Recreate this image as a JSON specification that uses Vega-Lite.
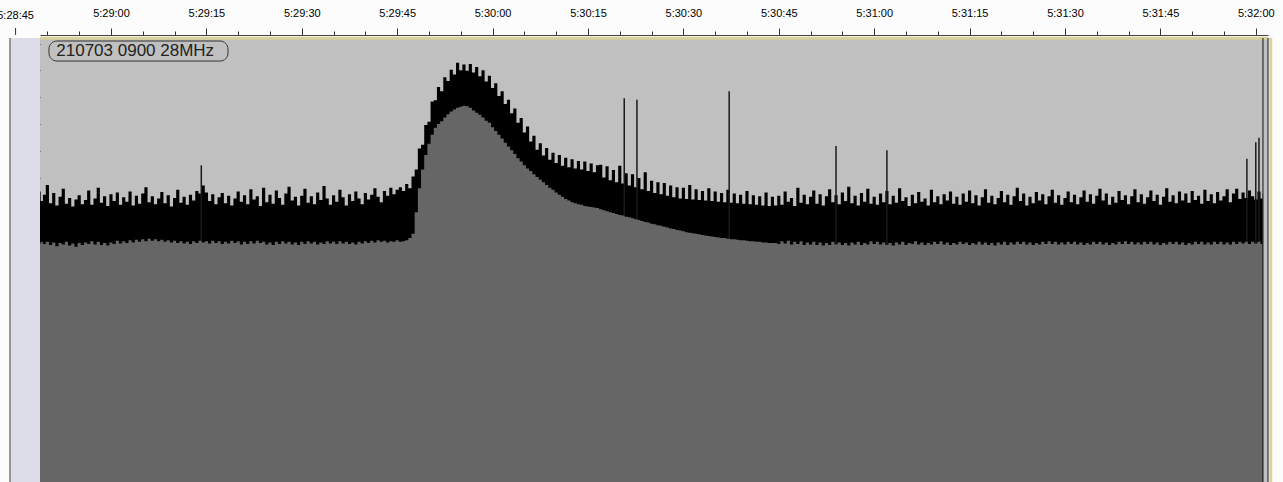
{
"$schema": "https://vega.github.io/schema/vega-lite/v6.json",
"width": 1228, "height": 444,
"autosize": "none",
"padding": {"left": 40, "top": 38, "right": 15, "bottom": 0},
"background": "#fcfcfc",
"view": {"fill": "#c0c0c0", "stroke": null},
"config": {"axis": {"labelOverlap": false, "labelFlush": false, "labelBound": false, "zindex": 1}},
"datasets": {
"wave": [
{"t":48.8,"p":-27.6,"r":-37.3},{"t":49.1,"p":-29.4,"r":-37.0},
{"t":49.5,"p":-28.2,"r":-37.4},{"t":50.0,"p":-26.4,"r":-37.0},{"t":50.5,"p":-29.8,"r":-37.6},{"t":51.0,"p":-27.9,"r":-37.1},{"t":51.5,"p":-30.2,"r":-37.8},{"t":52.0,"p":-28.6,"r":-37.2},{"t":52.5,"p":-27.1,"r":-37.5},{"t":53.0,"p":-29.9,"r":-37.0},{"t":53.5,"p":-28.8,"r":-37.7},{"t":54.0,"p":-30.4,"r":-37.3},{"t":54.5,"p":-29.1,"r":-37.9},{"t":55.0,"p":-28.3,"r":-37.2},{"t":55.5,"p":-30.0,"r":-37.6},{"t":56.0,"p":-29.2,"r":-37.1},{"t":56.5,"p":-27.4,"r":-37.4},{"t":57.0,"p":-30.1,"r":-36.9},{"t":57.5,"p":-28.9,"r":-37.5},{"t":58.0,"p":-26.9,"r":-37.0},{"t":58.5,"p":-29.7,"r":-37.6},{"t":59.0,"p":-28.5,"r":-37.2},{"t":59.5,"p":-30.3,"r":-37.7},{"t":60.0,"p":-28.1,"r":-37.1},{"t":60.5,"p":-29.4,"r":-37.4},{"t":61.0,"p":-27.8,"r":-36.8},{"t":61.5,"p":-30.1,"r":-37.3},{"t":62.0,"p":-28.7,"r":-36.9},{"t":62.5,"p":-29.5,"r":-37.2},{"t":63.0,"p":-27.6,"r":-36.7},{"t":63.5,"p":-30.2,"r":-37.1},{"t":64.0,"p":-28.4,"r":-36.6},{"t":64.5,"p":-29.9,"r":-37.0},{"t":65.0,"p":-28.0,"r":-36.5},{"t":65.5,"p":-26.8,"r":-36.9},{"t":66.0,"p":-29.6,"r":-36.4},{"t":66.5,"p":-28.5,"r":-36.8},{"t":67.0,"p":-30.0,"r":-36.5},{"t":67.5,"p":-28.9,"r":-36.9},{"t":68.0,"p":-27.7,"r":-36.6},{"t":68.5,"p":-29.8,"r":-37.0},{"t":69.0,"p":-28.3,"r":-36.7},{"t":69.5,"p":-30.4,"r":-37.1},{"t":70.0,"p":-28.8,"r":-36.8},{"t":70.5,"p":-27.3,"r":-37.2},{"t":71.0,"p":-29.7,"r":-36.9},{"t":71.5,"p":-28.6,"r":-37.3},{"t":72.0,"p":-30.1,"r":-37.0},{"t":72.5,"p":-28.2,"r":-37.4},{"t":73.0,"p":-29.3,"r":-36.9},{"t":73.5,"p":-27.5,"r":-37.2},{"t":74.0,"p":-28.0,"r":-36.8},{"t":74.5,"p":-26.5,"r":-37.1},{"t":75.0,"p":-27.8,"r":-36.9},{"t":75.5,"p":-29.4,"r":-37.3},{"t":76.0,"p":-28.1,"r":-36.8},{"t":76.5,"p":-30.0,"r":-37.2},{"t":77.0,"p":-28.7,"r":-36.9},{"t":77.5,"p":-27.9,"r":-37.4},{"t":78.0,"p":-29.8,"r":-37.0},{"t":78.5,"p":-28.4,"r":-37.3},{"t":79.0,"p":-30.2,"r":-36.8},{"t":79.5,"p":-28.9,"r":-37.2},{"t":80.0,"p":-27.6,"r":-36.9},{"t":80.5,"p":-29.5,"r":-37.5},{"t":81.0,"p":-28.3,"r":-37.0},{"t":81.5,"p":-30.0,"r":-37.4},{"t":82.0,"p":-27.2,"r":-36.9},{"t":82.5,"p":-29.1,"r":-37.3},{"t":83.0,"p":-28.5,"r":-36.8},{"t":83.5,"p":-30.3,"r":-37.2},{"t":84.0,"p":-26.9,"r":-37.0},{"t":84.5,"p":-29.6,"r":-37.5},{"t":85.0,"p":-28.2,"r":-37.1},{"t":85.5,"p":-29.9,"r":-37.6},{"t":86.0,"p":-27.4,"r":-37.0},{"t":86.5,"p":-28.8,"r":-37.4},{"t":87.0,"p":-30.1,"r":-36.9},{"t":87.5,"p":-28.0,"r":-37.3},{"t":88.0,"p":-26.7,"r":-37.0},{"t":88.5,"p":-29.3,"r":-37.5},{"t":89.0,"p":-28.6,"r":-37.1},{"t":89.5,"p":-30.2,"r":-37.6},{"t":90.0,"p":-28.4,"r":-37.0},{"t":90.5,"p":-27.1,"r":-37.4},{"t":91.0,"p":-29.7,"r":-36.9},{"t":91.5,"p":-28.5,"r":-37.3},{"t":92.0,"p":-30.0,"r":-37.0},{"t":92.5,"p":-27.8,"r":-37.5},{"t":93.0,"p":-29.2,"r":-37.1},{"t":93.5,"p":-26.6,"r":-37.4},{"t":94.0,"p":-28.9,"r":-36.9},{"t":94.5,"p":-30.1,"r":-37.3},{"t":95.0,"p":-28.3,"r":-37.0},{"t":95.5,"p":-29.5,"r":-37.4},{"t":96.0,"p":-27.3,"r":-36.9},{"t":96.5,"p":-28.7,"r":-37.3},{"t":97.0,"p":-30.2,"r":-37.0},{"t":97.5,"p":-28.1,"r":-37.4},{"t":98.0,"p":-29.4,"r":-37.1},{"t":98.5,"p":-27.6,"r":-37.5},{"t":99.0,"p":-28.9,"r":-37.0},{"t":99.5,"p":-30.0,"r":-37.3},{"t":100.0,"p":-27.9,"r":-36.9},{"t":100.5,"p":-29.1,"r":-37.2},{"t":101.0,"p":-28.2,"r":-36.8},{"t":101.5,"p":-27.0,"r":-37.1},{"t":102.0,"p":-28.6,"r":-36.7},{"t":102.5,"p":-29.6,"r":-37.0},{"t":103.0,"p":-27.5,"r":-36.8},{"t":103.5,"p":-28.4,"r":-37.1},{"t":104.0,"p":-26.9,"r":-36.9},{"t":104.5,"p":-28.1,"r":-37.0},{"t":105.0,"p":-27.3,"r":-36.7},{"t":105.5,"p":-26.8,"r":-37.0},{"t":106.0,"p":-27.5,"r":-36.9},
{"t":106.5,"p":-26.2,"r":-36.7},{"t":107.0,"p":-27.0,"r":-36.3},{"t":107.5,"p":-24.8,"r":-35.5},{"t":108.0,"p":-23.5,"r":-31.5},{"t":108.5,"p":-19.6,"r":-27.0},{"t":109.0,"p":-18.9,"r":-23.5},{"t":109.5,"p":-15.2,"r":-20.8},{"t":110.0,"p":-14.6,"r":-18.7},{"t":110.5,"p":-10.8,"r":-17.0},{"t":111.0,"p":-10.6,"r":-15.7},{"t":111.5,"p":-8.1,"r":-15.0},{"t":112.0,"p":-8.9,"r":-14.5},{"t":112.5,"p":-6.3,"r":-13.8},{"t":113.0,"p":-7.0,"r":-13.2},{"t":113.5,"p":-4.9,"r":-12.7},{"t":114.0,"p":-5.8,"r":-12.3},{"t":114.5,"p":-3.6,"r":-12.0},{"t":115.0,"p":-5.0,"r":-11.8},{"t":115.5,"p":-3.9,"r":-11.6},{"t":116.0,"p":-5.1,"r":-11.7},{"t":116.5,"p":-3.8,"r":-12.0},{"t":117.0,"p":-5.4,"r":-12.5},{"t":117.5,"p":-4.4,"r":-12.9},{"t":118.0,"p":-6.1,"r":-13.3},{"t":118.5,"p":-5.0,"r":-13.8},{"t":119.0,"p":-7.1,"r":-14.4},{"t":119.5,"p":-6.0,"r":-14.8},{"t":120.0,"p":-8.3,"r":-15.6},{"t":120.5,"p":-7.4,"r":-16.3},{"t":121.0,"p":-9.8,"r":-17.0},{"t":121.5,"p":-8.9,"r":-17.7},{"t":122.0,"p":-11.3,"r":-18.5},{"t":122.5,"p":-10.5,"r":-19.2},{"t":123.0,"p":-13.0,"r":-19.9},{"t":123.5,"p":-12.1,"r":-20.6},{"t":124.0,"p":-14.8,"r":-21.4},{"t":124.5,"p":-13.9,"r":-22.0},{"t":125.0,"p":-16.6,"r":-22.7},{"t":125.5,"p":-15.5,"r":-23.3},{"t":126.0,"p":-18.3,"r":-23.8},{"t":126.5,"p":-17.2,"r":-24.4},{"t":127.0,"p":-19.8,"r":-24.9},{"t":127.5,"p":-18.6,"r":-25.4},{"t":128.0,"p":-20.9,"r":-25.9},{"t":128.5,"p":-19.5,"r":-26.4},{"t":129.0,"p":-21.7,"r":-26.9},{"t":129.5,"p":-20.4,"r":-27.3},{"t":130.0,"p":-22.3,"r":-27.8},{"t":130.5,"p":-20.8,"r":-28.2},{"t":131.0,"p":-22.8,"r":-28.6},{"t":131.5,"p":-21.3,"r":-29.0},{"t":132.0,"p":-23.1,"r":-29.3},{"t":132.5,"p":-21.6,"r":-29.6},{"t":133.0,"p":-23.3,"r":-29.8},{"t":133.5,"p":-21.9,"r":-30.0},{"t":134.0,"p":-23.5,"r":-30.1},{"t":134.5,"p":-22.0,"r":-30.3},{"t":135.0,"p":-23.8,"r":-30.4},{"t":135.5,"p":-22.4,"r":-30.5},{"t":136.0,"p":-24.0,"r":-30.6},{"t":136.5,"p":-22.7,"r":-30.7},
{"t":137.0,"p":-22.6,"r":-30.9},{"t":137.5,"p":-25.0,"r":-31.1},{"t":138.0,"p":-22.9,"r":-31.3},{"t":138.5,"p":-25.5,"r":-31.5},{"t":139.0,"p":-23.6,"r":-31.6},{"t":139.5,"p":-25.9,"r":-31.8},{"t":140.0,"p":-22.8,"r":-32.0},{"t":140.5,"p":-26.1,"r":-32.1},{"t":141.0,"p":-24.2,"r":-32.3},{"t":141.5,"p":-26.5,"r":-32.4},{"t":142.0,"p":-24.4,"r":-32.6},{"t":142.5,"p":-26.8,"r":-32.8},{"t":143.0,"p":-25.1,"r":-32.9},{"t":143.5,"p":-27.2,"r":-33.1},{"t":144.0,"p":-24.0,"r":-33.3},{"t":144.5,"p":-27.5,"r":-33.4},{"t":145.0,"p":-25.6,"r":-33.6},{"t":145.5,"p":-27.9,"r":-33.7},{"t":146.0,"p":-25.9,"r":-33.9},{"t":146.5,"p":-28.1,"r":-34.0},{"t":147.0,"p":-26.0,"r":-34.2},{"t":147.5,"p":-28.4,"r":-34.3},{"t":148.0,"p":-26.5,"r":-34.5},{"t":148.5,"p":-28.7,"r":-34.6},{"t":149.0,"p":-26.8,"r":-34.8},{"t":149.5,"p":-28.9,"r":-34.9},{"t":150.0,"p":-26.9,"r":-35.0},{"t":150.5,"p":-29.0,"r":-35.2},{"t":151.0,"p":-26.4,"r":-35.3},{"t":151.5,"p":-29.1,"r":-35.4},{"t":152.0,"p":-27.2,"r":-35.5},{"t":152.5,"p":-29.2,"r":-35.6},{"t":153.0,"p":-27.5,"r":-35.7},{"t":153.5,"p":-29.3,"r":-35.8},{"t":154.0,"p":-27.0,"r":-35.9},{"t":154.5,"p":-29.4,"r":-36.0},{"t":155.0,"p":-27.6,"r":-36.1},{"t":155.5,"p":-29.5,"r":-36.2},{"t":156.0,"p":-27.9,"r":-36.3},{"t":156.5,"p":-29.6,"r":-36.3},{"t":157.0,"p":-27.3,"r":-36.4},{"t":157.5,"p":-29.7,"r":-36.5},{"t":158.0,"p":-28.0,"r":-36.5},{"t":158.5,"p":-29.8,"r":-36.6},{"t":159.0,"p":-28.2,"r":-36.7},{"t":159.5,"p":-29.9,"r":-36.7},{"t":160.0,"p":-27.5,"r":-36.8},{"t":160.5,"p":-30.0,"r":-36.9},{"t":161.0,"p":-28.3,"r":-36.9},{"t":161.5,"p":-30.1,"r":-37.0},{"t":162.0,"p":-28.5,"r":-37.0},{"t":162.5,"p":-30.2,"r":-37.1},{"t":163.0,"p":-27.8,"r":-37.1},{"t":163.5,"p":-30.3,"r":-37.2},{"t":164.0,"p":-28.6,"r":-37.2},{"t":164.5,"p":-30.2,"r":-37.2},
{"t":165.0,"p":-28.4,"r":-37.4},{"t":165.5,"p":-30.1,"r":-36.9},{"t":166.0,"p":-27.6,"r":-37.3},{"t":166.5,"p":-29.5,"r":-36.8},{"t":167.0,"p":-28.8,"r":-37.5},{"t":167.5,"p":-30.3,"r":-37.0},{"t":168.0,"p":-26.9,"r":-37.4},{"t":168.5,"p":-29.7,"r":-36.9},{"t":169.0,"p":-28.2,"r":-37.6},{"t":169.5,"p":-30.0,"r":-37.1},{"t":170.0,"p":-28.6,"r":-37.5},{"t":170.5,"p":-27.4,"r":-37.0},{"t":171.0,"p":-29.9,"r":-37.6},{"t":171.5,"p":-28.1,"r":-37.1},{"t":172.0,"p":-30.2,"r":-37.7},{"t":172.5,"p":-28.5,"r":-37.2},{"t":173.0,"p":-27.2,"r":-37.6},{"t":173.5,"p":-29.6,"r":-37.0},{"t":174.0,"p":-28.3,"r":-37.5},{"t":174.5,"p":-30.0,"r":-37.1},{"t":175.0,"p":-27.8,"r":-37.6},{"t":175.5,"p":-29.4,"r":-37.2},{"t":176.0,"p":-26.7,"r":-37.7},{"t":176.5,"p":-29.8,"r":-37.1},{"t":177.0,"p":-28.4,"r":-37.5},{"t":177.5,"p":-30.2,"r":-37.0},{"t":178.0,"p":-27.9,"r":-37.6},{"t":178.5,"p":-29.5,"r":-37.2},{"t":179.0,"p":-27.1,"r":-37.5},{"t":179.5,"p":-29.9,"r":-36.9},{"t":180.0,"p":-28.6,"r":-37.4},{"t":180.5,"p":-30.1,"r":-37.0},{"t":181.0,"p":-28.0,"r":-37.5},{"t":181.5,"p":-29.6,"r":-37.1},{"t":182.0,"p":-27.5,"r":-37.6},{"t":182.5,"p":-30.0,"r":-37.2},{"t":183.0,"p":-28.4,"r":-37.7},{"t":183.5,"p":-29.7,"r":-37.1},{"t":184.0,"p":-27.0,"r":-37.5},{"t":184.5,"p":-29.4,"r":-37.0},{"t":185.0,"p":-28.7,"r":-37.6},{"t":185.5,"p":-30.3,"r":-37.2},{"t":186.0,"p":-28.2,"r":-37.4},{"t":186.5,"p":-29.8,"r":-36.9},{"t":187.0,"p":-27.7,"r":-37.5},{"t":187.5,"p":-29.5,"r":-37.1},{"t":188.0,"p":-28.9,"r":-37.6},{"t":188.5,"p":-30.2,"r":-37.2},{"t":189.0,"p":-27.3,"r":-37.5},{"t":189.5,"p":-29.6,"r":-37.0},{"t":190.0,"p":-28.5,"r":-37.4},{"t":190.5,"p":-30.0,"r":-36.9},{"t":191.0,"p":-28.1,"r":-37.5},{"t":191.5,"p":-29.3,"r":-37.1},{"t":192.0,"p":-27.6,"r":-37.6},{"t":192.5,"p":-29.9,"r":-37.2},{"t":193.0,"p":-28.6,"r":-37.5},{"t":193.5,"p":-30.1,"r":-37.0},{"t":194.0,"p":-28.0,"r":-37.4},{"t":194.5,"p":-29.5,"r":-37.1},{"t":195.0,"p":-27.4,"r":-37.6},{"t":195.5,"p":-29.8,"r":-37.2},{"t":196.0,"p":-28.3,"r":-37.5},{"t":196.5,"p":-30.2,"r":-37.0},{"t":197.0,"p":-28.7,"r":-37.5},{"t":197.5,"p":-27.2,"r":-37.1},{"t":198.0,"p":-29.7,"r":-37.6},{"t":198.5,"p":-28.4,"r":-37.2},{"t":199.0,"p":-30.0,"r":-37.7},{"t":199.5,"p":-28.8,"r":-37.1},{"t":200.0,"p":-27.5,"r":-37.5},{"t":200.5,"p":-29.6,"r":-37.0},{"t":201.0,"p":-28.2,"r":-37.6},{"t":201.5,"p":-30.1,"r":-37.1},{"t":202.0,"p":-28.5,"r":-37.5},{"t":202.5,"p":-26.9,"r":-37.0},{"t":203.0,"p":-29.4,"r":-37.4},{"t":203.5,"p":-28.0,"r":-37.0},{"t":204.0,"p":-30.2,"r":-37.5},{"t":204.5,"p":-28.6,"r":-37.1},{"t":205.0,"p":-29.8,"r":-37.6},{"t":205.5,"p":-27.7,"r":-37.2},{"t":206.0,"p":-29.3,"r":-37.5},{"t":206.5,"p":-28.1,"r":-37.0},{"t":207.0,"p":-30.0,"r":-37.4},{"t":207.5,"p":-28.5,"r":-36.9},{"t":208.0,"p":-27.3,"r":-37.4},{"t":208.5,"p":-29.7,"r":-37.0},{"t":209.0,"p":-28.3,"r":-37.5},{"t":209.5,"p":-30.1,"r":-37.1},{"t":210.0,"p":-28.8,"r":-37.5},{"t":210.5,"p":-27.6,"r":-37.0},{"t":211.0,"p":-29.6,"r":-37.4},{"t":211.5,"p":-28.2,"r":-37.0},{"t":212.0,"p":-30.0,"r":-37.5},{"t":212.5,"p":-28.7,"r":-37.1},{"t":213.0,"p":-27.4,"r":-37.6},{"t":213.5,"p":-29.5,"r":-37.2},{"t":214.0,"p":-28.1,"r":-37.5},{"t":214.5,"p":-29.9,"r":-37.0},{"t":215.0,"p":-28.4,"r":-37.4},{"t":215.5,"p":-27.1,"r":-37.0},{"t":216.0,"p":-29.3,"r":-37.5},{"t":216.5,"p":-28.0,"r":-37.1},{"t":217.0,"p":-30.1,"r":-37.6},{"t":217.5,"p":-28.6,"r":-37.2},{"t":218.0,"p":-29.7,"r":-37.5},{"t":218.5,"p":-27.5,"r":-37.0},{"t":219.0,"p":-29.2,"r":-37.4},{"t":219.5,"p":-28.3,"r":-36.9},{"t":220.0,"p":-30.0,"r":-37.4},{"t":220.5,"p":-28.5,"r":-37.0},{"t":221.0,"p":-27.2,"r":-37.5},{"t":221.5,"p":-29.6,"r":-37.1},{"t":222.0,"p":-28.1,"r":-37.5},{"t":222.5,"p":-29.9,"r":-37.0},{"t":223.0,"p":-28.7,"r":-37.4},{"t":223.5,"p":-27.4,"r":-37.0},{"t":224.0,"p":-29.4,"r":-37.5},{"t":224.5,"p":-28.2,"r":-37.1},{"t":225.0,"p":-30.1,"r":-37.6},{"t":225.5,"p":-28.6,"r":-37.2},{"t":226.0,"p":-27.0,"r":-37.5},{"t":226.5,"p":-29.5,"r":-37.0},{"t":227.0,"p":-28.3,"r":-37.4},{"t":227.5,"p":-29.8,"r":-37.0},{"t":228.0,"p":-27.6,"r":-37.5},{"t":228.5,"p":-29.3,"r":-37.1},{"t":229.0,"p":-28.0,"r":-37.6},{"t":229.5,"p":-29.7,"r":-37.2},{"t":230.0,"p":-27.5,"r":-37.5},{"t":230.5,"p":-29.2,"r":-37.0},{"t":231.0,"p":-28.4,"r":-37.4},{"t":231.5,"p":-29.9,"r":-37.0},{"t":232.0,"p":-27.3,"r":-37.5},{"t":232.5,"p":-29.4,"r":-37.1},{"t":233.0,"p":-28.1,"r":-37.5},{"t":233.5,"p":-29.8,"r":-37.0},{"t":234.0,"p":-27.7,"r":-37.4},{"t":234.5,"p":-29.3,"r":-37.0},{"t":235.0,"p":-28.5,"r":-37.5},{"t":235.5,"p":-27.2,"r":-37.1},{"t":236.0,"p":-29.6,"r":-37.5},{"t":236.5,"p":-28.0,"r":-37.0},{"t":237.0,"p":-27.1,"r":-37.4},{"t":237.5,"p":-29.0,"r":-37.0},{"t":238.0,"p":-27.8,"r":-37.3},{"t":238.5,"p":-28.8,"r":-37.0},{"t":239.0,"p":-27.4,"r":-37.4},{"t":239.5,"p":-28.5,"r":-37.0},{"t":240.0,"p":-29.1,"r":-37.3},{"t":240.5,"p":-27.6,"r":-37.0},{"t":241.0,"p":-28.9,"r":-37.4},{"t":241.1,"p":-28.0,"r":-37.1}
],
"spikes": [
{"t":74.2,"top":-22.7},{"t":140.7,"top":-10.2},{"t":142.7,"top":-10.5},{"t":157.2,"top":-8.9},{"t":174.0,"top":-19.1},{"t":182.0,"top":-19.9},{"t":238.6,"top":-21.5},{"t":240.0,"top":-18.4},{"t":240.5,"top":-17.6}
],
"tag": [{"label":"210703 0900 28MHz","first":"5:28:45"}]
},
"layer": [
{"data":{"name":"wave"},
"mark":{"type":"area","color":"#000000","interpolate":"step"},
"encoding":{
"x":{"field":"t","type":"quantitative","scale":{"domain":[48.84,241.92],"nice":false,"zero":false},
"axis":{"orient":"top","title":null,"offset":3,"values":[50,55,60,65,70,75,80,85,90,95,100,105,110,115,120,125,130,135,140,145,150,155,160,165,170,175,180,185,190,195,200,205,210,215,220,225,230,235,240],"labelExpr":"datum.value % 15 == 0 ? '5:' + (28 + floor(datum.value/60)) + ':' + (datum.value % 60 < 10 ? '0' : '') + (datum.value % 60) : ''","tickSize":{"condition":{"test":"datum.value % 15 == 0","value":7},"value":4},"labelPadding":10,"labelFont":"Liberation Sans","labelFontSize":11,"labelColor":"#000","tickColor":"#333","domainColor":"#444","grid":false}},
"y":{"field":"p","type":"quantitative","scale":{"domain":[-81.8,1.03],"nice":false,"zero":false},
"axis":{"title":null,"values":[0,-5,-10,-15,-20,-25,-30,-35,-40,-45,-50,-55,-60,-65,-70,-79],"labelExpr":"datum.value == 0 ? '0' : '-' + abs(datum.value)","domain":false,"grid":false,"labelFont":"Liberation Sans","labelFontSize":11,"labelColor":"#000","labelFontWeight":"bold","tickSize":5,"labelPadding":1,"tickColor":"#333"}},
"y2":{"datum":-81.8}}},
{"data":{"name":"spikes"},
"mark":{"type":"rule","color":"#1a1a1a","strokeWidth":1.5},
"encoding":{
"x":{"field":"t","type":"quantitative",
"axis":{"orient":"top","title":null,"offset":3,"values":[50,55,60,65,70,75,80,85,90,95,100,105,110,115,120,125,130,135,140,145,150,155,160,165,170,175,180,185,190,195,200,205,210,215,220,225,230,235,240],"labelExpr":"datum.value % 15 == 0 ? '5:' + (28 + floor(datum.value/60)) + ':' + (datum.value % 60 < 10 ? '0' : '') + (datum.value % 60) : ''","tickSize":{"condition":{"test":"datum.value % 15 == 0","value":7},"value":4},"labelPadding":10,"labelFont":"Liberation Sans","labelFontSize":11,"labelColor":"#000","tickColor":"#333","domainColor":"#444","grid":false}},
"y":{"field":"top","type":"quantitative",
"axis":{"title":null,"values":[0,-5,-10,-15,-20,-25,-30,-35,-40,-45,-50,-55,-60,-65,-70,-79],"labelExpr":"datum.value == 0 ? '0' : '-' + abs(datum.value)","domain":false,"grid":false,"labelFont":"Liberation Sans","labelFontSize":11,"labelColor":"#000","labelFontWeight":"bold","tickSize":5,"labelPadding":1,"tickColor":"#333"}},
"y2":{"datum":-81.8}}},
{"data":{"name":"wave"},
"mark":{"type":"area","color":"#666666","interpolate":"step"},
"encoding":{
"x":{"field":"t","type":"quantitative",
"axis":{"orient":"top","title":null,"offset":3,"values":[50,55,60,65,70,75,80,85,90,95,100,105,110,115,120,125,130,135,140,145,150,155,160,165,170,175,180,185,190,195,200,205,210,215,220,225,230,235,240],"labelExpr":"datum.value % 15 == 0 ? '5:' + (28 + floor(datum.value/60)) + ':' + (datum.value % 60 < 10 ? '0' : '') + (datum.value % 60) : ''","tickSize":{"condition":{"test":"datum.value % 15 == 0","value":7},"value":4},"labelPadding":10,"labelFont":"Liberation Sans","labelFontSize":11,"labelColor":"#000","tickColor":"#333","domainColor":"#444","grid":false}},
"y":{"field":"r","type":"quantitative",
"axis":{"title":null,"values":[0,-5,-10,-15,-20,-25,-30,-35,-40,-45,-50,-55,-60,-65,-70,-79],"labelExpr":"datum.value == 0 ? '0' : '-' + abs(datum.value)","domain":false,"grid":false,"labelFont":"Liberation Sans","labelFontSize":11,"labelColor":"#000","labelFontWeight":"bold","tickSize":5,"labelPadding":1,"tickColor":"#333"}},
"y2":{"datum":-81.8}}},
{"data":{"name":"tag"},"mark":{"type":"rect","color":"#dcdde8","clip":false},
"encoding":{"x":{"datum":44.12,
"axis":{"orient":"top","title":null,"offset":3,"values":[50,55,60,65,70,75,80,85,90,95,100,105,110,115,120,125,130,135,140,145,150,155,160,165,170,175,180,185,190,195,200,205,210,215,220,225,230,235,240],"labelExpr":"datum.value % 15 == 0 ? '5:' + (28 + floor(datum.value/60)) + ':' + (datum.value % 60 < 10 ? '0' : '') + (datum.value % 60) : ''","tickSize":{"condition":{"test":"datum.value % 15 == 0","value":7},"value":4},"labelPadding":10,"labelFont":"Liberation Sans","labelFontSize":11,"labelColor":"#000","tickColor":"#333","domainColor":"#444","grid":false}},
"x2":{"datum":48.84}}},
{"data":{"name":"tag"},"mark":{"type":"rule","color":"#444","strokeWidth":1,"clip":false},
"encoding":{"x":{"datum":44.12,
"axis":{"orient":"top","title":null,"offset":3,"values":[50,55,60,65,70,75,80,85,90,95,100,105,110,115,120,125,130,135,140,145,150,155,160,165,170,175,180,185,190,195,200,205,210,215,220,225,230,235,240],"labelExpr":"datum.value % 15 == 0 ? '5:' + (28 + floor(datum.value/60)) + ':' + (datum.value % 60 < 10 ? '0' : '') + (datum.value % 60) : ''","tickSize":{"condition":{"test":"datum.value % 15 == 0","value":7},"value":4},"labelPadding":10,"labelFont":"Liberation Sans","labelFontSize":11,"labelColor":"#000","tickColor":"#333","domainColor":"#444","grid":false}}}},
{"data":{"name":"tag"},"mark":{"type":"rule","color":"#d6d29c","strokeWidth":3,"clip":false},
"encoding":{"y":{"datum":1.0,
"axis":{"title":null,"values":[0,-5,-10,-15,-20,-25,-30,-35,-40,-45,-50,-55,-60,-65,-70,-79],"labelExpr":"datum.value == 0 ? '0' : '-' + abs(datum.value)","domain":false,"grid":false,"labelFont":"Liberation Sans","labelFontSize":11,"labelColor":"#000","labelFontWeight":"bold","tickSize":5,"labelPadding":1,"tickColor":"#333"}}}},
{"data":{"name":"tag"},"mark":{"type":"rule","color":"#111","strokeWidth":1,"clip":false},
"encoding":{"x":{"datum":241.13,
"axis":{"orient":"top","title":null,"offset":3,"values":[50,55,60,65,70,75,80,85,90,95,100,105,110,115,120,125,130,135,140,145,150,155,160,165,170,175,180,185,190,195,200,205,210,215,220,225,230,235,240],"labelExpr":"datum.value % 15 == 0 ? '5:' + (28 + floor(datum.value/60)) + ':' + (datum.value % 60 < 10 ? '0' : '') + (datum.value % 60) : ''","tickSize":{"condition":{"test":"datum.value % 15 == 0","value":7},"value":4},"labelPadding":10,"labelFont":"Liberation Sans","labelFontSize":11,"labelColor":"#000","tickColor":"#333","domainColor":"#444","grid":false}}}},
{"data":{"name":"tag"},"mark":{"type":"rule","color":"#111","strokeWidth":1,"clip":false},
"encoding":{"x":{"datum":241.92,
"axis":{"orient":"top","title":null,"offset":3,"values":[50,55,60,65,70,75,80,85,90,95,100,105,110,115,120,125,130,135,140,145,150,155,160,165,170,175,180,185,190,195,200,205,210,215,220,225,230,235,240],"labelExpr":"datum.value % 15 == 0 ? '5:' + (28 + floor(datum.value/60)) + ':' + (datum.value % 60 < 10 ? '0' : '') + (datum.value % 60) : ''","tickSize":{"condition":{"test":"datum.value % 15 == 0","value":7},"value":4},"labelPadding":10,"labelFont":"Liberation Sans","labelFontSize":11,"labelColor":"#000","tickColor":"#333","domainColor":"#444","grid":false}}}},
{"data":{"name":"tag"},"mark":{"type":"rule","color":"#d6d29c","strokeWidth":3,"clip":false},
"encoding":{"x":{"datum":242.35,
"axis":{"orient":"top","title":null,"offset":3,"values":[50,55,60,65,70,75,80,85,90,95,100,105,110,115,120,125,130,135,140,145,150,155,160,165,170,175,180,185,190,195,200,205,210,215,220,225,230,235,240],"labelExpr":"datum.value % 15 == 0 ? '5:' + (28 + floor(datum.value/60)) + ':' + (datum.value % 60 < 10 ? '0' : '') + (datum.value % 60) : ''","tickSize":{"condition":{"test":"datum.value % 15 == 0","value":7},"value":4},"labelPadding":10,"labelFont":"Liberation Sans","labelFontSize":11,"labelColor":"#000","tickColor":"#333","domainColor":"#444","grid":false}}}},
{"data":{"name":"tag"},
"mark":{"type":"rect","fill":"#c0c0c0","stroke":"#333","strokeWidth":1,"cornerRadius":8,"clip":false},
"encoding":{"x":{"datum":50.25,
"axis":{"orient":"top","title":null,"offset":3,"values":[50,55,60,65,70,75,80,85,90,95,100,105,110,115,120,125,130,135,140,145,150,155,160,165,170,175,180,185,190,195,200,205,210,215,220,225,230,235,240],"labelExpr":"datum.value % 15 == 0 ? '5:' + (28 + floor(datum.value/60)) + ':' + (datum.value % 60 < 10 ? '0' : '') + (datum.value % 60) : ''","tickSize":{"condition":{"test":"datum.value % 15 == 0","value":7},"value":4},"labelPadding":10,"labelFont":"Liberation Sans","labelFontSize":11,"labelColor":"#000","tickColor":"#333","domainColor":"#444","grid":false}},
"x2":{"datum":78.4},
"y":{"datum":0.47,
"axis":{"title":null,"values":[0,-5,-10,-15,-20,-25,-30,-35,-40,-45,-50,-55,-60,-65,-70,-79],"labelExpr":"datum.value == 0 ? '0' : '-' + abs(datum.value)","domain":false,"grid":false,"labelFont":"Liberation Sans","labelFontSize":11,"labelColor":"#000","labelFontWeight":"bold","tickSize":5,"labelPadding":1,"tickColor":"#333"}},
"y2":{"datum":-3.27}}},
{"data":{"name":"tag"},
"mark":{"type":"text","align":"left","baseline":"middle","font":"Liberation Sans","fontSize":17,"color":"#222","clip":false},
"encoding":{"x":{"datum":51.4,
"axis":{"orient":"top","title":null,"offset":3,"values":[50,55,60,65,70,75,80,85,90,95,100,105,110,115,120,125,130,135,140,145,150,155,160,165,170,175,180,185,190,195,200,205,210,215,220,225,230,235,240],"labelExpr":"datum.value % 15 == 0 ? '5:' + (28 + floor(datum.value/60)) + ':' + (datum.value % 60 < 10 ? '0' : '') + (datum.value % 60) : ''","tickSize":{"condition":{"test":"datum.value % 15 == 0","value":7},"value":4},"labelPadding":10,"labelFont":"Liberation Sans","labelFontSize":11,"labelColor":"#000","tickColor":"#333","domainColor":"#444","grid":false}},
"y":{"datum":-1.45,
"axis":{"title":null,"values":[0,-5,-10,-15,-20,-25,-30,-35,-40,-45,-50,-55,-60,-65,-70,-79],"labelExpr":"datum.value == 0 ? '0' : '-' + abs(datum.value)","domain":false,"grid":false,"labelFont":"Liberation Sans","labelFontSize":11,"labelColor":"#000","labelFontWeight":"bold","tickSize":5,"labelPadding":1,"tickColor":"#333"}},
"text":{"field":"label"}}},
{"data":{"name":"tag"},
"mark":{"type":"text","align":"center","baseline":"alphabetic","font":"Liberation Sans","fontSize":11,"color":"#000","clip":false},
"encoding":{"x":{"datum":45,
"axis":{"orient":"top","title":null,"offset":3,"values":[50,55,60,65,70,75,80,85,90,95,100,105,110,115,120,125,130,135,140,145,150,155,160,165,170,175,180,185,190,195,200,205,210,215,220,225,230,235,240],"labelExpr":"datum.value % 15 == 0 ? '5:' + (28 + floor(datum.value/60)) + ':' + (datum.value % 60 < 10 ? '0' : '') + (datum.value % 60) : ''","tickSize":{"condition":{"test":"datum.value % 15 == 0","value":7},"value":4},"labelPadding":10,"labelFont":"Liberation Sans","labelFontSize":11,"labelColor":"#000","tickColor":"#333","domainColor":"#444","grid":false}},
"y":{"datum":4.6,
"axis":{"title":null,"values":[0,-5,-10,-15,-20,-25,-30,-35,-40,-45,-50,-55,-60,-65,-70,-79],"labelExpr":"datum.value == 0 ? '0' : '-' + abs(datum.value)","domain":false,"grid":false,"labelFont":"Liberation Sans","labelFontSize":11,"labelColor":"#000","labelFontWeight":"bold","tickSize":5,"labelPadding":1,"tickColor":"#333"}},
"text":{"field":"first"}}},
{"data":{"name":"tag"},
"mark":{"type":"rule","color":"#333","strokeWidth":1,"clip":false},
"encoding":{"x":{"datum":45,
"axis":{"orient":"top","title":null,"offset":3,"values":[50,55,60,65,70,75,80,85,90,95,100,105,110,115,120,125,130,135,140,145,150,155,160,165,170,175,180,185,190,195,200,205,210,215,220,225,230,235,240],"labelExpr":"datum.value % 15 == 0 ? '5:' + (28 + floor(datum.value/60)) + ':' + (datum.value % 60 < 10 ? '0' : '') + (datum.value % 60) : ''","tickSize":{"condition":{"test":"datum.value % 15 == 0","value":7},"value":4},"labelPadding":10,"labelFont":"Liberation Sans","labelFontSize":11,"labelColor":"#000","tickColor":"#333","domainColor":"#444","grid":false}},
"y":{"datum":2.9,
"axis":{"title":null,"values":[0,-5,-10,-15,-20,-25,-30,-35,-40,-45,-50,-55,-60,-65,-70,-79],"labelExpr":"datum.value == 0 ? '0' : '-' + abs(datum.value)","domain":false,"grid":false,"labelFont":"Liberation Sans","labelFontSize":11,"labelColor":"#000","labelFontWeight":"bold","tickSize":5,"labelPadding":1,"tickColor":"#333"}},
"y2":{"datum":1.6}}}
]
}
